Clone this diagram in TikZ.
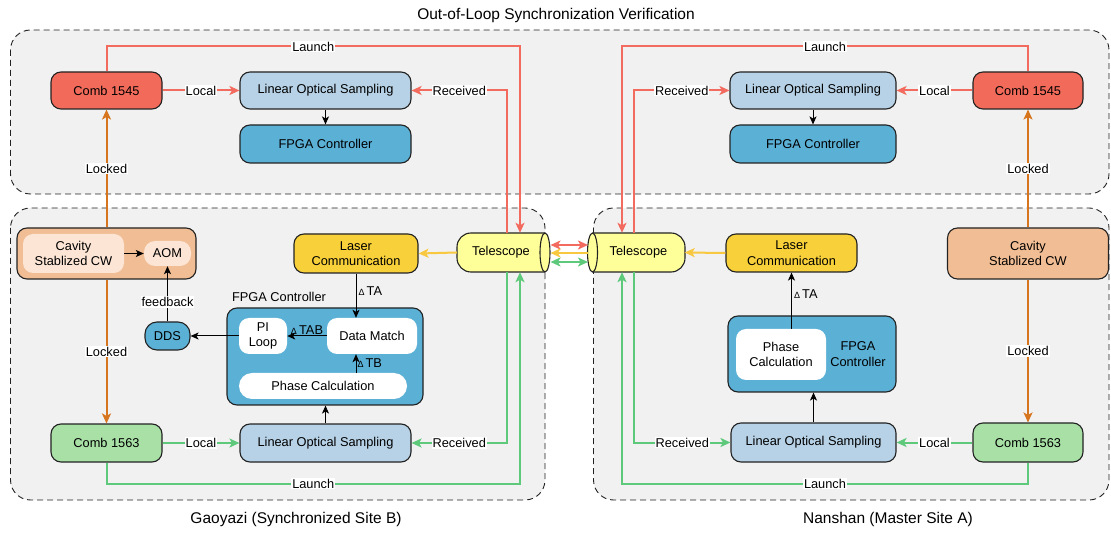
\documentclass[tikz,border=0pt]{standalone}
\usepackage{fontspec}
\setmainfont{Liberation Sans}
\usetikzlibrary{arrows.meta,calc}
\definecolor{comb45}{RGB}{242,106,90}
\definecolor{redline}{RGB}{243,107,94}
\definecolor{losc}{RGB}{183,210,230}
\definecolor{fpgac}{RGB}{91,176,214}
\definecolor{comb63}{RGB}{168,224,166}
\definecolor{greenline}{RGB}{94,201,122}
\definecolor{orangeline}{RGB}{214,117,30}
\definecolor{cavc}{RGB}{241,189,148}
\definecolor{cavin}{RGB}{252,229,213}
\definecolor{laserc}{RGB}{248,208,58}
\definecolor{yline}{RGB}{248,200,64}
\definecolor{telc}{RGB}{255,255,153}
\definecolor{grpbg}{RGB}{241,241,241}
\definecolor{borderc}{RGB}{34,34,34}
\newcommand{\fs}{\fontsize{12.8}{15.5}\selectfont}
\newcommand{\dlt}{{\fontsize{9}{9}\selectfont Δ}\,}
\begin{document}
\begin{tikzpicture}[x=1pt,y=-1pt,
  >={Stealth[length=10pt,width=9pt,inset=2.5pt]},
  grp/.style={fill=grpbg,draw=borderc,dash pattern=on 6pt off 4pt,line width=0.9pt,rounded corners=20pt},
  ttl/.style={font=\fontsize{15.5}{18}\selectfont,inner sep=0pt},
  box/.style={draw=borderc,line width=1.1pt,rounded corners=10pt,inner sep=2pt,align=center,font=\fs},
  inbox/.style={draw=none,rounded corners=10pt,inner sep=2pt,align=center,font=\fs},
  lbl/.style={fill=white,inner sep=1pt,font=\fs},
  dlbl/.style={inner sep=2pt,font=\fs},
  redl/.style={draw=redline,line width=2pt,->},
  grl/.style={draw=greenline,line width=2pt,->},
  orl/.style={draw=orangeline,line width=2pt,->},
  yl/.style={draw=yline,line width=2pt,->},
  blk/.style={draw=black,line width=1pt,-{Stealth[length=8pt,width=7pt,inset=2pt]}},
  telshape/.style={fill=telc,draw=borderc,line width=1.1pt}
]
\useasboundingbox (0,0) rectangle (1111,534);
% groups
\draw[grp] (10.5,30) rectangle (1109,194);
\draw[grp] (10.5,208) rectangle (545,500);
\draw[grp] (593.5,208) rectangle (1109,500);
\node[ttl] (title) at (556,15) {Out-of-Loop Synchronization Verification};
\node[ttl] (gB) at (296,519) {Gaoyazi (Synchronized Site B)};
\node[ttl] (gA) at (888,519) {Nanshan (Master Site A)};

% telescope shapes
\draw[telshape,rounded corners=14pt] (545,233) -- (457,233) -- (457,272) -- (545,272);
\draw[telshape] (545,252.5) ellipse [x radius=5pt, y radius=19.5pt];
\draw[telshape,rounded corners=14pt] (592.5,233) -- (685,233) -- (685,272) -- (592.5,272);
\draw[telshape] (592.5,252.5) ellipse [x radius=5pt, y radius=19.5pt];
\node[font=\fs,minimum width=88,minimum height=39,inner sep=0pt] (telL) at (501,252.5) {Telescope};
\node[font=\fs,minimum width=92,minimum height=39,inner sep=0pt] (telR) at (638.5,252.5) {Telescope};

% top row
\node[box,fill=comb45,minimum width=111,minimum height=37] (c45L) at (106.5,90.5) {Comb 1545};
\node[box,fill=losc,minimum width=171,minimum height=37] (losL) at (325.5,90.5) {Linear Optical Sampling};
\node[box,fill=fpgac,minimum width=171,minimum height=38] (fpL) at (325.5,144) {FPGA Controller};
\node[box,fill=losc,minimum width=166,minimum height=37] (losR) at (813,90.5) {Linear Optical Sampling};
\node[box,fill=fpgac,minimum width=166,minimum height=38] (fpR) at (813,144) {FPGA Controller};
\node[box,fill=comb45,minimum width=110,minimum height=37] (c45R) at (1028,90.5) {Comb 1545};

% site B
\node[box,fill=cavc,minimum width=179,minimum height=51] (cavL) at (106.5,253.5) {};
\node[inbox,fill=cavin,minimum width=101,minimum height=39] (cswL) at (73.5,253.5) {Cavity\\Stablized CW};
\node[inbox,fill=cavin,minimum width=47,minimum height=25,rounded corners=11pt] (aom) at (167.5,253.5) {AOM};
\node[box,fill=laserc,minimum width=124,minimum height=39] (lcL) at (356,253.5) {Laser\\Communication};
\node[box,fill=fpgac,minimum width=196,minimum height=97] (fpB) at (325,356.5) {};
\node[dlbl] (fpBlbl) at (279,297) {FPGA Controller};
\node[inbox,fill=white,minimum width=48,minimum height=36] (pi) at (263,336) {PI\\Loop};
\node[inbox,fill=white,minimum width=90,minimum height=36] (dm) at (372,336) {Data Match};
\node[inbox,fill=white,minimum width=168,minimum height=26,rounded corners=13pt] (pcL) at (323,386) {Phase Calculation};
\node[box,fill=fpgac,minimum width=45,minimum height=28,rounded corners=12pt] (dds) at (167.5,336) {DDS};
\node[box,fill=comb63,minimum width=111,minimum height=38] (c63L) at (106.5,443) {Comb 1563};
\node[box,fill=losc,minimum width=171,minimum height=38] (losBL) at (325.5,443) {Linear Optical Sampling};

% site A
\node[box,fill=laserc,minimum width=131,minimum height=38] (lcR) at (791.5,253) {Laser\\Communication};
\node[box,fill=cavc,minimum width=161,minimum height=51] (cavR) at (1028,253.5) {Cavity\\Stablized CW};
\node[box,fill=fpgac,minimum width=168,minimum height=76] (fpA) at (812,354) {};
\node[inbox,fill=white,minimum width=90,minimum height=51] (pcR) at (781,354.5) {Phase\\Calculation};
\node[dlbl,align=center] (fpAlbl) at (858,354) {FPGA\\Controller};
\node[box,fill=losc,minimum width=165,minimum height=39] (losBR) at (813.5,442.5) {Linear Optical Sampling};
\node[box,fill=comb63,minimum width=110,minimum height=39] (c63R) at (1028,442.5) {Comb 1563};

% connectors top-left
\draw[redl] (c45L.north) -- ++(0,-25) -| node[lbl,pos=0.25]{Launch} ($(telL.north)+(19,0)$);
\draw[redl] ($(telL.north)+(6,0)$) |- node[lbl,pos=0.75]{Received} (losL.east);
\draw[redl] (c45L) -- node[lbl]{Local} (losL);
\draw[blk] (losL) -- (fpL);
\draw[orl] (cavL) -- node[lbl]{Locked} (c45L);
% top-right
\draw[redl] (c45R.north) -- ++(0,-25) -| node[lbl,pos=0.25]{Launch} ($(telR.north)+(-16.5,0)$);
\draw[redl] ($(telR.north)+(-4.5,0)$) |- node[lbl,pos=0.75]{Received} (losR.west);
\draw[redl] (c45R) -- node[lbl]{Local} (losR);
\draw[blk] (losR) -- (fpR);
\draw[orl] (cavR) -- node[lbl]{Locked} (c45R);

% site B connectors
\draw[grl] (c63L.south) -- ++(0,21) -| node[lbl,pos=0.25]{Launch} ($(telL.south)+(19,0)$);
\draw[grl] ($(telL.south)+(6,0)$) |- node[lbl,pos=0.75]{Received} (losBL.east);
\draw[grl] (c63L) -- node[lbl]{Local} (losBL);
\draw[orl] (cavL) -- node[lbl]{Locked} (c63L);
\draw[yl] (telL.west) -- (lcL.east);
\draw[blk] (losBL.north) -- (losBL.north |- fpB.south);
\draw[blk] (lcL.south) -- node[dlbl,right,pos=0.4]{\dlt TA} (lcL.south |- dm.north);
\draw[blk] (dm) -- node[dlbl,above,inner sep=1pt]{\dlt TAB} (pi);
\draw[blk] (lcL.south |- pcL.north) -- node[dlbl,right,inner sep=1pt]{\dlt TB} (lcL.south |- dm.south);
\draw[blk] (pi) -- (dds);
\draw[blk] (dds) -- node[lbl,pos=0.35]{feedback} (aom);
\draw[blk] (cswL) -- (aom);

% site A connectors
\draw[grl] (c63R.south) -- ++(0,21) -| node[lbl,pos=0.25]{Launch} ($(telR.south)+(-16.5,0)$);
\draw[grl] ($(telR.south)+(-4.5,0)$) |- node[lbl,pos=0.75]{Received} (losBR.west);
\draw[grl] (c63R) -- node[lbl]{Local} (losBR);
\draw[orl] (cavR) -- node[lbl]{Locked} (c63R);
\draw[yl] (lcR.west) -- (telR.east);
\draw[blk] (losBR.north) -- (losBR.north |- fpA.south);
\draw[blk] (lcR.south |- pcR.north) -- node[dlbl,right,pos=0.62]{\dlt TA} (lcR.south);

% inter-site links
\coordinate (eLr) at (550.5,245);
\coordinate (eRr) at (588,245);
\coordinate (eLy) at (550.5,253);
\coordinate (eRy) at (587.5,253);
\coordinate (eLg) at (550.5,262);
\coordinate (eRg) at (588,262);
\draw[redl,<->] (eLr) -- (eRr);
\draw[yl] (eRy) -- (eLy);
\draw[grl,<->] (eLg) -- (eRg);
\end{tikzpicture}
\end{document}
